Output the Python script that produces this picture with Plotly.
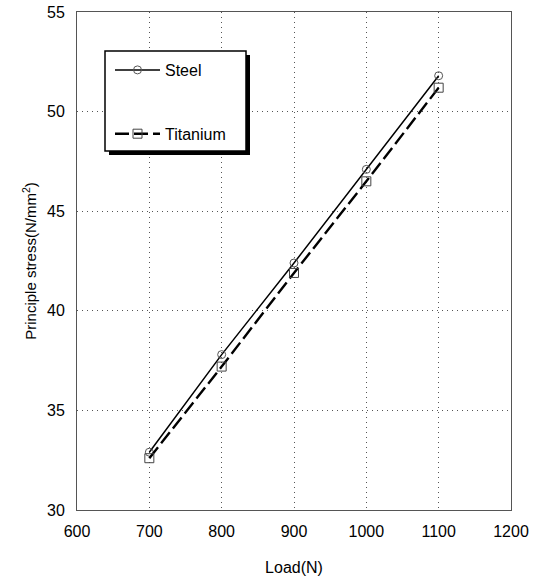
import plotly.graph_objects as go

load = [700, 800, 900, 1000, 1100]
steel = [32.9, 37.8, 42.4, 47.1, 51.8]
titanium = [32.6, 37.2, 41.9, 46.5, 51.2]

x_ticks = [600, 700, 800, 900, 1000, 1100, 1200]
y_ticks = [30, 35, 40, 45, 50, 55]

font_family = "Liberation Sans, Arial, sans-serif"

W, H = 537, 577
L, R, T, B = 77, 26, 12, 67
pw, ph = W - L - R, H - T - B


def px_to_paper(xp, yp):
    return (xp - L) / pw, (H - B - yp) / ph


fig = go.Figure()
fig.add_trace(go.Scatter(
    x=load, y=steel, name="Steel", mode="lines+markers",
    line=dict(color="black", width=1.5),
    marker=dict(symbol="circle-open", size=8, color="#555555", line=dict(width=1)),
    legendgroup="a",
))
fig.add_trace(go.Scatter(
    x=load, y=titanium, name="Titanium", mode="lines+markers",
    line=dict(color="black", width=2.4, dash="14px,5px"),
    marker=dict(symbol="square-open", size=9, color="#444444", line=dict(width=1)),
    legendgroup="b",
))

# legend box shadow + frame
sx0, sy0 = px_to_paper(109, 155)
sx1, sy1 = px_to_paper(250, 55)
fig.add_shape(type="rect", xref="paper", yref="paper",
              x0=sx0, x1=sx1, y0=sy0, y1=sy1,
              fillcolor="black", line=dict(width=0), layer="above")
bx0, by0 = px_to_paper(105, 151)
bx1, by1 = px_to_paper(246, 51)
fig.add_shape(type="rect", xref="paper", yref="paper",
              x0=bx0, x1=bx1, y0=by0, y1=by1,
              fillcolor="white", line=dict(color="black", width=1.5), layer="above")

axis_common = dict(
    showgrid=True, gridcolor="#555555", griddash="1px,4px", gridwidth=1,
    showline=True, linecolor="#555555", linewidth=1, mirror=True,
    ticks="", zeroline=False, automargin=False,
    tickfont=dict(family=font_family, size=16, color="black"),
)

lx, ly = px_to_paper(110, 53)
fig.update_layout(
    width=W, height=H,
    margin=dict(l=L, r=R, t=T, b=B),
    paper_bgcolor="white", plot_bgcolor="white",
    font=dict(family=font_family, color="black"),
    xaxis=dict(range=[600, 1200], tickvals=x_ticks, ticklabelstandoff=7, **axis_common,
               title=dict(text="Load(N)", font=dict(size=16), standoff=22)),
    yaxis=dict(range=[30, 55], tickvals=y_ticks, ticklabelstandoff=8, **axis_common,
               title=dict(text="Principle stress(N/mm<sup>2</sup>)", font=dict(size=15), standoff=6)),
    legend=dict(
        x=lx, y=ly, xanchor="left", yanchor="top",
        bgcolor="rgba(0,0,0,0)", borderwidth=0,
        font=dict(size=16, family=font_family),
        traceorder="grouped", tracegroupgap=40,
        itemwidth=45,
    ),
)

fig.write_html("out.html", config={"displayModeBar": False},
               post_script="document.body.style.margin='0';")
